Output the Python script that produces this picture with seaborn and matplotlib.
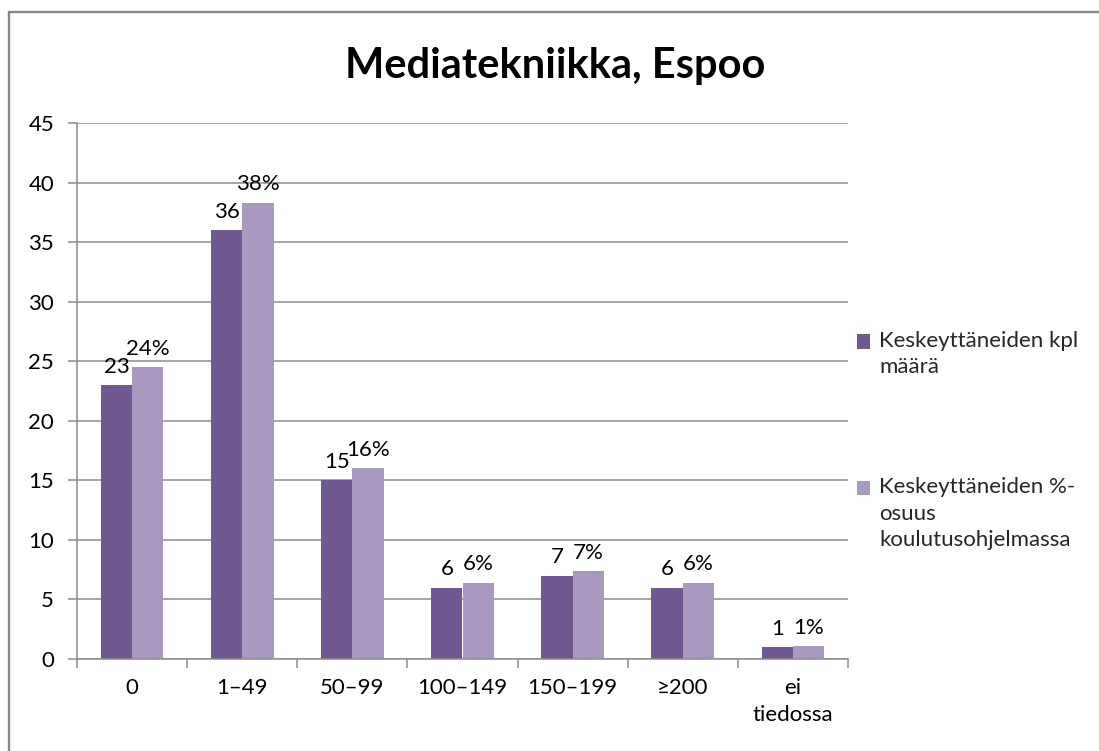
import matplotlib
matplotlib.use("Agg")
import matplotlib.pyplot as plt
import matplotlib.patches as mpatches
from matplotlib.legend_handler import HandlerPatch
import seaborn as sns
import pandas as pd
import numpy as np

categories = ["0", "1–49", "50–99", "100–149", "150–199", "≥200", "ei\ntiedossa"]
counts = [23, 36, 15, 6, 7, 6, 1]
percents = [24.5, 38.3, 16.0, 6.4, 7.4, 6.4, 1.1]
count_labels = ["23", "36", "15", "6", "7", "6", "1"]
percent_labels = ["24%", "38%", "16%", "6%", "7%", "6%", "1%"]
series_names = ["Keskeyttäneiden kpl\nmäärä", "Keskeyttäneiden %-\nosuus\nkoulutusohjelmassa"]
colors = ["#705890", "#A89ABF"]
title = "Mediatekniikka, Espoo"

sns.set_theme(style="white")
plt.rcParams["font.family"] = ["Lato", "DejaVu Sans"]

df = pd.DataFrame({
    "cat": categories * 2,
    "value": counts + percents,
    "series": [series_names[0]] * len(categories) + [series_names[1]] * len(categories),
})

FS = 16
LEG_LS = 1.4

fig = plt.figure(figsize=(10.99, 7.51), dpi=100)
ax = fig.add_axes([77 / 1099, 1 - 659 / 751, (848 - 77) / 1099, (659 - 123) / 751])

sns.barplot(data=df, x="cat", y="value", hue="series", palette=colors,
            width=0.57, gap=0, ax=ax, saturation=1, order=categories,
            hue_order=series_names, linewidth=0)

ax.set_ylim(0, 45)
ax.set_xlim(-0.5, len(categories) - 0.5)
ax.set_yticks(np.arange(0, 46, 5))
ax.yaxis.grid(True, color="#8c8c8c", linewidth=1.1)
ax.set_axisbelow(True)
ax.set_xlabel("")
ax.set_ylabel("")
for s in ["top", "right"]:
    ax.spines[s].set_visible(False)
for s in ["left", "bottom"]:
    ax.spines[s].set_color("#8c8c8c")
    ax.spines[s].set_linewidth(1.1)

ax.tick_params(axis="y", which="major", left=True, length=6.5, width=1.1, color="#8c8c8c",
               pad=10, labelsize=FS, labelcolor="black")
ax.tick_params(axis="x", which="major", bottom=False, length=0, pad=14, labelsize=FS,
               labelcolor="black")
ax.set_xticks(np.arange(-0.5, len(categories), 1.0), minor=True)
ax.tick_params(axis="x", which="minor", bottom=True, length=6.5, width=1.1, color="#8c8c8c")
for t in ax.get_xticklabels():
    t.set_linespacing(1.4)

for cont, labs in zip(ax.containers, [count_labels, percent_labels]):
    ax.bar_label(cont, labels=labs, padding=6, fontsize=FS, color="black")


def make_handler(nlines):
    offset = (nlines - 1) / 2 * LEG_LS * FS * 0.83

    def patch_func(legend, orig_handle, xdescent, ydescent, width, height, fontsize):
        return mpatches.Rectangle((-xdescent, -ydescent + offset), width, height)

    return HandlerPatch(patch_func=patch_func)


handles, labels = ax.get_legend_handles_labels()
hmap = {h: make_handler(lab.count("\n") + 1) for h, lab in zip(handles, labels)}

leg = ax.legend(handles, labels, loc="upper left", bbox_to_anchor=(857 / 1099, 1 - 331 / 751),
                bbox_transform=fig.transFigure, frameon=False, fontsize=FS,
                handlelength=0.6, handleheight=0.6, handletextpad=0.4,
                labelspacing=4.5, borderaxespad=0, borderpad=0, handler_map=hmap)
for t in leg.get_texts():
    t.set_linespacing(LEG_LS)

fig.text(0.505, 1 - 66 / 751, title, ha="center", va="center", fontsize=30,
         fontweight="bold", color="black")

border = mpatches.Rectangle((9 / 1099, -0.05), 1.2, 1.05 - 12 / 751, transform=fig.transFigure,
                            fill=False, edgecolor="#868686", linewidth=1.7, clip_on=False)
fig.patches.append(border)

fig.savefig("out.png", dpi=100)
